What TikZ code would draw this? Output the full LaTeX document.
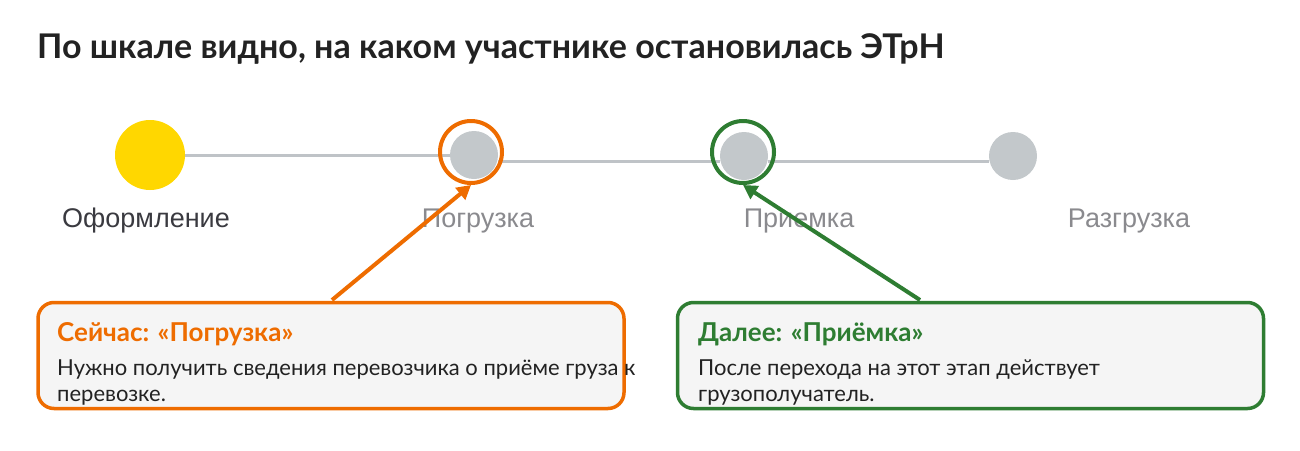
\documentclass[tikz,border=0pt]{standalone}
\usepackage{fontspec}
\setmainfont{Lato}
\newfontfamily\arialfont{Liberation Sans}
\usetikzlibrary{arrows.meta}
\definecolor{ttlcol}{HTML}{222222}
\definecolor{sun}{HTML}{FFD700}
\definecolor{dotgray}{HTML}{C3C8CB}
\definecolor{linegray}{HTML}{BFC3C7}
\definecolor{nowor}{HTML}{EE6C00}
\definecolor{nextgr}{HTML}{2E7D32}
\definecolor{boxbg}{HTML}{F5F5F5}
\definecolor{txtcol}{HTML}{222222}
\definecolor{lblcol}{HTML}{8A8A8E}
\definecolor{lbldark}{HTML}{3A3A40}

\tikzset{
  dot/.style={circle, inner sep=0pt, minimum size=#1},
  ring/.style={circle, draw=#1, line width=4pt, inner sep=0pt, minimum size=62pt},
  track/.style={draw=linegray, line width=3pt},
  stagelbl/.style={font=\arialfont\fontsize{27}{30}\selectfont, text=lblcol, inner sep=0pt, anchor=base},
  callout/.style={draw=#1, line width=3.5pt, fill=boxbg, rounded corners=16pt, minimum width=586pt, minimum height=106pt, inner sep=0pt},
  pointer/.style={draw=#1, line width=4pt, -{Triangle[length=14pt,width=15pt]}},
  head/.style={font=\bfseries\fontsize{26}{30}\selectfont, inner sep=0pt, anchor=base west},
  body/.style={font=\fontsize{22}{26}\selectfont, text=txtcol, inner sep=0pt, anchor=base west},
}

\begin{document}
\begin{tikzpicture}[x=1pt, y=-1pt]
\useasboundingbox (0,0) rectangle (1300,450);
% title
\node[font=\bfseries\fontsize{34}{40}\selectfont, text=ttlcol, inner sep=0pt, anchor=base west] (title) at (37,58) {По шкале видно, на каком участнике остановилась ЭТрН};

% stages
\node[dot=70pt, fill=sun] (ofo) at (150,155) {};
\node[dot=48pt, fill=dotgray] (pog) at (474,155) {};
\node[dot=48pt, fill=dotgray] (pri) at (744,156) {};
\node[dot=48pt, fill=dotgray] (raz) at (1013,156) {};
\draw[track] (ofo) -- (pog);
\draw[track] ([yshift=-6.5pt]pog.east) -- ([yshift=-5.5pt]pri.west);
\draw[track] ([yshift=-5.5pt]pri.east) -- ([yshift=-5.5pt]raz.west);

\node[stagelbl, text=lbldark] (ofolbl) at (146,227) {Оформление};
\node[stagelbl] (poglbl) at (478,227) {Погрузка};
\node[stagelbl] (prilbl) at (799,227) {Приемка};
\node[stagelbl] (razlbl) at (1129,227) {Разгрузка};

% current step
\node[ring=nowor] (nowring) at (471,152) {};
\node[callout=nowor] (nowbox) at (331,355.5) {};
\node[head, text=nowor] (nowhead) at (57,341) {Сейчас: «Погрузка»};
\node[body] (nowtxt1) at (57,375) {Нужно получить сведения перевозчика о приёме груза к};
\node[body] (nowtxt2) at (57,401) {перевозке.};
\coordinate (nowtail) at (332,300);
\draw[pointer=nowor] (nowtail) -- (nowring.south);

% next step
\node[ring=nextgr] (nextring) at (743,152) {};
\node[callout=nextgr] (nextbox) at (970.5,355.5) {};
\node[head, text=nextgr] (nexthead) at (698,341) {Далее: «Приёмка»};
\node[body] (nexttxt1) at (698,375) {После перехода на этот этап действует};
\node[body] (nexttxt2) at (698,401) {грузополучатель.};
\coordinate (nexttail) at (920,300);
\draw[pointer=nextgr] (nexttail) -- (nextring.south);

\end{tikzpicture}
\end{document}
